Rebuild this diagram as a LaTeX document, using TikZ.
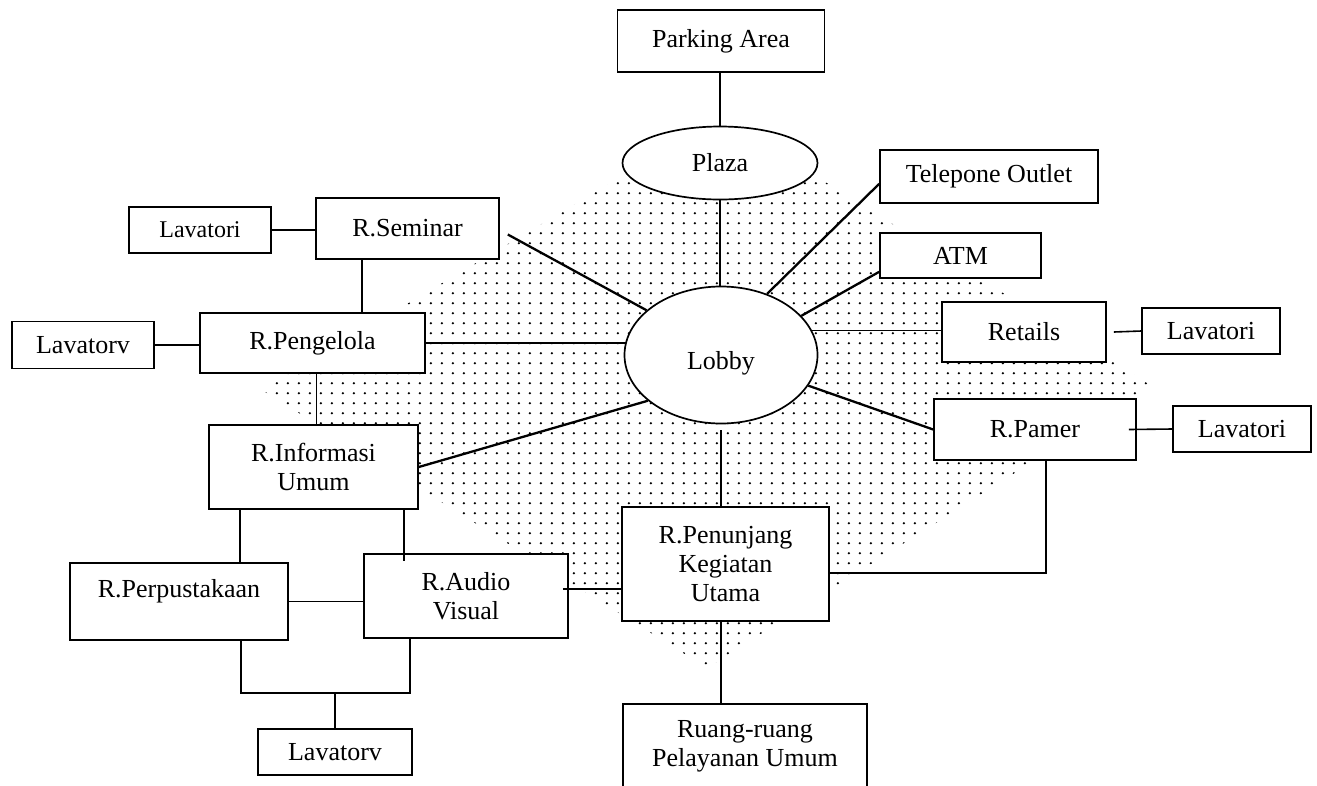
\documentclass[tikz,border=0pt]{standalone}
\usepackage{fontspec}
\setmainfont{Liberation Serif}
\usetikzlibrary{shapes.geometric,calc,patterns}

% fine stipple used for the central circulation zone
\pgfdeclarepatternformonly{roomdots}{\pgfpointorigin}{\pgfqpoint{10.5pt}{10pt}}{\pgfqpoint{10.5pt}{10pt}}{%
  \pgfpathcircle{\pgfqpoint{3pt}{3pt}}{1.3pt}\pgfusepath{fill}}

\newcommand\roomfont{\fontsize{26}{29}\selectfont}
\newcommand\smallroomfont{\fontsize{24}{28}\selectfont}

\begin{document}
\begin{tikzpicture}[x=1pt,y=-1pt,
  room/.style={draw, fill=white, line width=1.6pt, inner sep=0pt, align=center, font=\roomfont},
  hall/.style={ellipse, draw, fill=white, line width=1.7pt, inner sep=0pt, font=\roomfont},
  link/.style={line width=1.6pt},
  spoke/.style={line width=2.3pt}]

\useasboundingbox (0,0) rectangle (1317,785);
\clip (0,0) rectangle (1317,785);

% stippled zone around the lobby
\fill[pattern=roomdots] (700,130) -- (742,130) -- (1152,386) -- (707,668) -- (262,390) -- cycle;

% rooms
\node[room, minimum width=207, minimum height=62] (park) at (721,41) {Parking Area};
\node[hall, minimum width=195, minimum height=73] (plaza) at (720,163) {Plaza};
\node[room, minimum width=218, minimum height=53] (tel) at (989,176.5) {Telepone Outlet};
\node[room, minimum width=142, minimum height=46, font=\smallroomfont] (lavA) at (200,230) {Lavatori};
\node[room, minimum width=183, minimum height=61] (sem) at (407.5,228.5) {R.Seminar};
\node[room, minimum width=161, minimum height=45] (atm) at (960.5,255.5) {ATM};
\node[room, minimum width=142, minimum height=47] (lavB) at (83,345) {Lavatorv};
\node[room, minimum width=225, minimum height=60] (peng) at (312.5,343) {R.Pengelola};
\node[hall, minimum width=193, minimum height=137] (lobby) at (721,355) {\raisebox{-8pt}[\height][\depth]{Lobby}};
\node[room, minimum width=164, minimum height=60] (ret) at (1024,332) {Retails};
\node[room, minimum width=138, minimum height=46] (lavC) at (1211,331) {Lavatori};
\node[room, minimum width=202, minimum height=61] (pamer) at (1035,429.5) {R.Pamer};
\node[room, minimum width=138, minimum height=46] (lavD) at (1242,429) {Lavatori};
\node[room, minimum width=209, minimum height=84] (info) at (313.5,467) {R.Informasi\\Umum};
\node[room, minimum width=207, minimum height=114] (penun) at (725.5,564) {R.Penunjang\\Kegiatan\\Utama};
\node[room, minimum width=218, minimum height=77] (perp) at (179,601.5) {\raisebox{10pt}[\height][\depth]{R.Perpustakaan}};
\node[room, minimum width=204, minimum height=84] (audio) at (466,596) {R.Audio\\Visual};
\node[room, minimum width=154, minimum height=46] (lavE) at (335,752) {Lavatorv};
\node[room, minimum width=244, minimum height=84] (ruang) at (745,746) {Ruang-ruang\\Pelayanan Umum};

% entrance axis
\draw[link] (plaza.north) -- (plaza.north |- park.south);
\draw[link] (plaza.south) -- (plaza.south |- lobby.north);

% spokes from the lobby
\draw[spoke] ($(sem.east)+(8,6)$) -- (lobby.149);
\draw[spoke] ($(tel.south west)+(0,-20)$) -- (lobby.53);
\draw[spoke] ($(atm.south west)+(0,-7)$) -- (lobby.26);
\draw[link] (lobby.15) -- (lobby.15 -| ret.west);
\draw[spoke] (pamer.west) -- (lobby);
\draw[link] (peng.east) -- (peng.east -| lobby.172);
\draw[spoke] (info.east) -- (lobby.212);
\coordinate (lobbyfoot) at ($(lobby.south)+(0,6)$);
\draw[link] (lobbyfoot) -- (lobbyfoot |- penun.north);
\draw[link] (lobby.south |- penun.south) -- (lobby.south |- ruang.north);

% west wing
\draw[link] (lavA.east) -- (lavA.east -| sem.west);
\coordinate (semfoot) at ($(sem.south west)+(47,0)$);
\draw[link] (semfoot) -- (semfoot |- peng.north);
\draw[link] (lavB.east) -- (lavB.east -| peng.west);
\coordinate (pengfoot) at ($(peng.south)+(4,0)$);
\draw[link] (pengfoot) -- (pengfoot |- info.north);
\coordinate (infoL) at ($(info.south west)+(32,0)$);
\draw[link] (infoL) -- (infoL |- perp.north);
\coordinate (infoR) at ($(info.south east)+(-15,0)$);
\draw[link] (infoR) -- ($(infoR |- audio.north)+(0,8)$);
\draw[link] (perp.east) -- (perp.east -| audio.west);
\coordinate (audioR) at ($(audio.east)+(-6,-7)$);
\draw[link] (audioR) -- (audioR -| penun.west);
\coordinate (perpfoot) at ($(perp.south west)+(172,0)$);
\coordinate (audiofoot) at ($(audio.south west)+(47,0)$);
\coordinate (lavjoin) at ($(perpfoot)+(92,52)$);
\draw[link] (perpfoot) -- ++(0,52) -| (audiofoot);
\draw[link] (lavE.north) -- (lavE.north |- lavjoin);

% east wing
\draw[link] ($(ret.east)+(7,0)$) -- (lavC.west);
\draw[link] ($(pamer.east)+(-8,0)$) -- (lavD.west);
\coordinate (pamerfoot) at ($(pamer.south west)+(113,0)$);
\draw[link] (pamerfoot) |- ($(penun.east)+(0,9)$);

\end{tikzpicture}
\end{document}
